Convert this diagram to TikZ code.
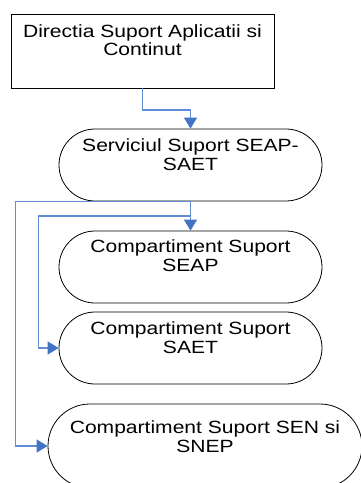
\documentclass[tikz,border=0pt]{standalone}
\usepackage{fontspec}
\setmainfont{Liberation Sans}[FakeStretch=1.19]
\usetikzlibrary{arrows.meta,calc}
\definecolor{connblue}{RGB}{98,140,212}
\definecolor{tipblue}{RGB}{68,114,196}
\begin{document}
\begin{tikzpicture}[x=1pt,y=-1pt,
  boxshape/.style={draw=black,line width=0.9pt,rectangle,inner sep=0pt,minimum width=263pt,minimum height=74pt},
  termshape/.style={draw=black,line width=0.8pt,rectangle,rounded corners=36pt,inner sep=0pt,minimum width=263pt,minimum height=72pt},
  conn/.style={draw=connblue,line width=1.2pt,-{Triangle[width=13pt,length=11pt,fill=tipblue,color=tipblue]}},
  lbl/.style={anchor=base,inner sep=0pt,font=\fontsize{17.7pt}{18.6pt}\selectfont}
]
\useasboundingbox (0,0) rectangle (361,483);
\clip (0,0) rectangle (361,483);
\node[boxshape] (box) at (142.5,51) {};
\node[termshape] (e1) at (190.5,165) {};
\node[termshape] (e2) at (190.5,267) {};
\node[termshape] (e3) at (190.5,348) {};
\node[termshape,rounded corners=42pt,minimum width=314pt,minimum height=84pt] (e4) at (205,446) {};

\node[lbl] (t0) at ([yshift=-23.7pt]box.north) {\begin{tabular}[t]{@{}c@{}}Directia Suport Aplicatii si\\Continut\end{tabular}};
\node[lbl] (t1) at ([yshift=-23pt]e1.north) {\begin{tabular}[t]{@{}c@{}}Serviciul Suport SEAP-\\SAET\end{tabular}};
\node[lbl] (t2) at ([yshift=-22.3pt]e2.north) {\begin{tabular}[t]{@{}c@{}}Compartiment Suport\\SEAP\end{tabular}};
\node[lbl] (t3) at ([yshift=-23.3pt]e3.north) {\begin{tabular}[t]{@{}c@{}}Compartiment Suport\\SAET\end{tabular}};
\node[lbl] (t4) at ([yshift=-30.3pt]e4.north) {\begin{tabular}[t]{@{}c@{}}Compartiment Suport SEN si\\SNEP\end{tabular}};

\draw[conn] (box.south) -- ++(0,21.5) -| (e1.north);
\draw[conn] (e1.south) -| ([xshift=-32pt]e4.west) -- (e4.west);
\draw[conn] (e1.south) -- ++(0,14.5) -| ([xshift=-20.5pt]e3.west) -- (e3.west);
\draw[conn] (e1.south) -- (e2.north);
\end{tikzpicture}
\end{document}
